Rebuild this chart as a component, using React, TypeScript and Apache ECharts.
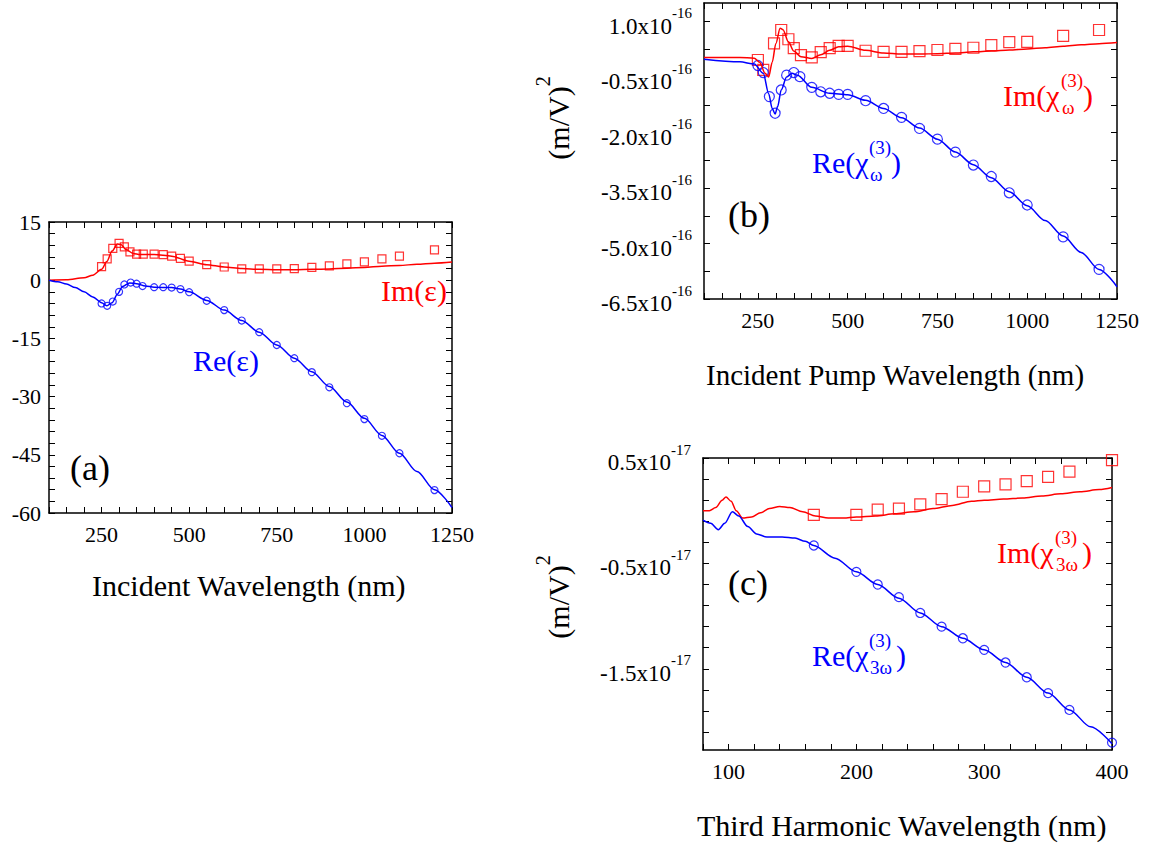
import React, { useEffect, useRef } from 'react';
import * as echarts from 'echarts';

const FONT = 'Liberation Serif';
const RED = '#ff0000';
const BLUE = '#0000ff';

// ---------- Panel (a): dielectric function ----------
const aImLine: [number, number][] = [
  [100, 0], [150, 0.1], [200, 0.6], [225, 1.3], [250, 2.8], [265, 4.8], [280, 7.5], [295, 9.3],
  [305, 9.2], [320, 7.9], [340, 6.9], [360, 6.6], [400, 6.6], [450, 6.2], [500, 4.9], [550, 4.0],
  [600, 3.4], [650, 3.0], [700, 2.8], [750, 2.7], [800, 2.7], [850, 2.8], [900, 2.9], [950, 3.1],
  [1000, 3.3], [1050, 3.6], [1100, 3.8], [1150, 4.1], [1200, 4.4], [1250, 4.7],
];
const aReLine: [number, number][] = [
  [100, 0], [125, -0.4], [150, -1.0], [175, -1.9], [200, -3.0], [225, -4.3], [250, -5.8], [265, -6.6],
  [280, -5.8], [295, -3.6], [310, -1.6], [330, -0.7], [350, -0.9], [375, -1.5], [400, -1.8], [450, -1.9],
  [475, -2.3], [500, -3.0], [550, -5.2], [600, -7.7], [650, -10.4], [700, -13.4], [750, -16.7],
  [800, -20.1], [850, -23.6], [900, -27.4], [950, -31.4], [1000, -35.6], [1050, -40.0], [1100, -44.6],
  [1150, -49.3], [1200, -54.0], [1250, -58.6],
];
const aImPts: [number, number][] = [
  [250, 3.5], [266, 5.5], [282, 8.2], [300, 9.5], [315, 8.6], [331, 7.3], [350, 6.7], [369, 6.7],
  [400, 6.7], [426, 6.6], [450, 6.2], [475, 5.6], [500, 4.9], [550, 4.0], [600, 3.4], [650, 2.9],
  [700, 2.9], [750, 2.9], [800, 3.0], [850, 3.3], [900, 3.7], [950, 4.2], [1000, 4.7], [1050, 5.5],
  [1100, 6.2], [1200, 7.8],
];
const aRePts: [number, number][] = [
  [250, -6.0], [266, -6.6], [282, -5.5], [300, -3.0], [315, -1.1], [333, -0.6], [350, -0.9], [367, -1.5],
  [400, -1.8], [426, -1.8], [450, -1.9], [475, -2.3], [500, -3.1], [550, -5.3], [600, -7.7], [650, -10.4],
  [700, -13.4], [750, -16.7], [800, -20.1], [850, -23.7], [900, -27.6], [950, -31.7], [1000, -35.8],
  [1050, -40.1], [1100, -44.6], [1200, -54.1],
];

// ---------- Panel (b): chi(3) at pump (units of 1e-16 (m/V)^2) ----------
const bImLine: [number, number][] = [
  [100, 0.03], [200, 0.03], [240, 0.01], [255, -0.1], [270, -0.4], [280, -0.5], [290, -0.1], [300, 0.4],
  [312, 0.82], [320, 0.78], [335, 0.45], [350, 0.2], [370, 0.05], [400, 0.0], [425, 0.1], [450, 0.22],
  [475, 0.32], [500, 0.33], [550, 0.22], [600, 0.15], [650, 0.12], [700, 0.12], [750, 0.13], [800, 0.15],
  [850, 0.18], [900, 0.2], [950, 0.23], [1000, 0.26], [1050, 0.29], [1100, 0.33], [1150, 0.37],
  [1200, 0.4], [1250, 0.43],
];
const bReLine: [number, number][] = [
  [100, -0.02], [200, -0.09], [240, -0.15], [265, -0.4], [280, -0.95], [290, -1.35], [298, -1.5],
  [305, -1.3], [315, -0.85], [330, -0.5], [345, -0.4], [360, -0.45], [400, -0.78], [450, -0.94],
  [500, -0.98], [550, -1.13], [600, -1.35], [650, -1.6], [700, -1.88], [750, -2.18], [800, -2.53],
  [850, -2.87], [900, -3.22], [950, -3.6], [1000, -3.98], [1050, -4.38], [1100, -4.8], [1150, -5.24],
  [1200, -5.7], [1250, -6.17],
];
const bImPts: [number, number][] = [
  [250, -0.04], [265, -0.31], [295, 0.41], [315, 0.77], [335, 0.52], [350, 0.28], [370, 0.09],
  [400, 0.03], [425, 0.17], [450, 0.28], [475, 0.34], [500, 0.34], [550, 0.21], [600, 0.18],
  [650, 0.18], [700, 0.2], [750, 0.23], [800, 0.26], [850, 0.29], [900, 0.36], [950, 0.44],
  [1000, 0.45], [1100, 0.61], [1200, 0.77],
];
const bRePts: [number, number][] = [
  [250, -0.19], [265, -0.38], [282, -1.03], [298, -1.48], [315, -0.85], [330, -0.45], [350, -0.38],
  [367, -0.49], [400, -0.78], [425, -0.9], [450, -0.94], [475, -0.97], [500, -0.97], [550, -1.14],
  [600, -1.35], [650, -1.59], [700, -1.89], [750, -2.18], [800, -2.53], [850, -2.88], [900, -3.19],
  [950, -3.63], [1000, -3.96], [1100, -4.82], [1200, -5.7],
];

// ---------- Panel (c): chi(3) at third harmonic (units of 1e-17 (m/V)^2) ----------
const cImLine: [number, number][] = [
  [80, 0.0], [85, 0.0], [90, 0.03], [95, 0.1], [98, 0.13], [102, 0.09], [106, 0.0], [111, -0.07],
  [118, -0.06], [125, -0.02], [132, 0.02], [140, 0.04], [148, 0.03], [158, -0.01], [168, -0.05],
  [178, -0.07], [190, -0.07], [200, -0.06], [215, -0.05], [230, -0.03], [245, -0.01], [260, 0.02],
  [275, 0.05], [290, 0.09], [300, 0.1], [315, 0.11], [330, 0.12], [345, 0.14], [360, 0.16],
  [375, 0.18], [390, 0.2], [400, 0.22],
];
const cReLine: [number, number][] = [
  [80, -0.09], [86, -0.12], [92, -0.18], [97, -0.12], [103, -0.01], [108, -0.05], [115, -0.15],
  [122, -0.22], [130, -0.25], [142, -0.25], [152, -0.26], [160, -0.29], [166.7, -0.33], [183.3, -0.45],
  [200, -0.58], [216.7, -0.7], [233.3, -0.83], [250, -0.97], [266.7, -1.1], [283.3, -1.21], [300, -1.32],
  [316.7, -1.44], [333.3, -1.58], [350, -1.73], [366.7, -1.89], [383.3, -2.05], [400, -2.21],
];
const cImPts: [number, number][] = [
  [166.7, -0.04], [200, -0.04], [216.7, 0.01], [233.3, 0.02], [250, 0.06], [266.7, 0.11], [283.3, 0.18],
  [300, 0.23], [316.7, 0.25], [333.3, 0.28], [350, 0.32], [366.7, 0.37], [400, 0.48],
];
const cRePts: [number, number][] = [
  [166.7, -0.33], [200, -0.58], [216.7, -0.7], [233.3, -0.82], [250, -0.97], [266.7, -1.1],
  [283.3, -1.21], [300, -1.32], [316.7, -1.44], [333.3, -1.58], [350, -1.73], [366.7, -1.89],
  [400, -2.2],
];

// ---------- ticks ----------
function steps(a: number, b: number, s: number): number[] {
  const out: number[] = [];
  for (let i = 0; a + i * s <= b + 1e-9; i++) out.push(Math.round((a + i * s) * 1000) / 1000);
  return out;
}
const aXTicks = steps(100, 1250, 50);
const aXLabels = [250, 500, 750, 1000, 1250];
const aYTicks = steps(-60, 15, 3);
const aYLabels = [-60, -45, -30, -15, 0, 15];
const bXTicks = steps(100, 1250, 50);
const bXLabels = [250, 500, 750, 1000, 1250];
const bYTicks = steps(-6.5, 1.0, 0.75);
const bYLabels = [-6.5, -5.0, -3.5, -2.0, -0.5, 1.0];
const cXTicks = steps(80, 400, 20);
const cXLabels = [100, 200, 300, 400];
const cYTicks = steps(-2.1, 0.5, 0.2);
const cYLabels = [-1.5, -0.5, 0.5];

const AXLINE = { show: true, onZero: false, lineStyle: { color: '#000', width: 1.5 } };
const TICKSTYLE = { color: '#000', width: 1 };

function xPair(grid: number, min: number, max: number, ticks: number[], labels: number[]) {
  return [
    {
      type: 'value', gridIndex: grid, min, max, position: 'bottom',
      axisLine: AXLINE,
      axisTick: { show: true, inside: true, length: 6, customValues: ticks, lineStyle: TICKSTYLE },
      axisLabel: {
        customValues: labels, fontFamily: FONT, fontSize: 22, color: '#000', margin: 10,
        formatter: (v: number) => String(v),
      },
      splitLine: { show: false },
    },
    {
      type: 'value', gridIndex: grid, min, max, position: 'top',
      axisLine: AXLINE,
      axisTick: { show: true, inside: true, length: 6, customValues: ticks, lineStyle: TICKSTYLE },
      axisLabel: { show: false },
      splitLine: { show: false },
    },
  ];
}

function yPair(grid: number, min: number, max: number, ticks: number[], labels: number[], fmt: any, rich?: any, margin = 8) {
  return [
    {
      type: 'value', gridIndex: grid, min, max, position: 'left',
      axisLine: AXLINE,
      axisTick: { show: true, inside: true, length: 6, customValues: ticks, lineStyle: TICKSTYLE },
      axisLabel: {
        customValues: labels, fontFamily: FONT, fontSize: 22, color: '#000', margin,
        formatter: fmt, rich,
      },
      splitLine: { show: false },
    },
    {
      type: 'value', gridIndex: grid, min, max, position: 'right',
      axisLine: AXLINE,
      axisTick: { show: true, inside: true, length: 6, customValues: ticks, lineStyle: TICKSTYLE },
      axisLabel: { show: false },
      splitLine: { show: false },
    },
  ];
}

const sciRich = {
  m: { fontFamily: FONT, fontSize: 23, color: '#000', lineHeight: 32, verticalAlign: 'bottom' },
  s: { fontFamily: FONT, fontSize: 15, color: '#000', verticalAlign: 'top' },
};
const sciFmt = (exp: string) => (v: number) => `{m|${v.toFixed(1)}x10}{s|${exp}}`;

function lineSeries(grid: number, data: [number, number][], color: string) {
  return {
    type: 'line', xAxisIndex: grid * 2, yAxisIndex: grid * 2, data, showSymbol: false,
    smooth: 0.3, smoothMonotone: 'x', lineStyle: { color, width: 1.5 }, silent: true,
  };
}
function ptSeries(grid: number, data: [number, number][], color: string, symbol: string, size: number) {
  return {
    type: 'scatter', xAxisIndex: grid * 2, yAxisIndex: grid * 2, data, symbol, symbolSize: size,
    itemStyle: { color: 'rgba(0,0,0,0)', borderColor: color, borderWidth: 1.2 }, silent: true,
  };
}

function txt(x: number, y: number, text: string, size: number, fill: string, extra: any = {}) {
  return {
    type: 'text', x, y, silent: true,
    style: {
      text, fontFamily: FONT, fontSize: size, fill,
      textAlign: 'left', textVerticalAlign: 'middle', align: 'left', verticalAlign: 'middle',
      ...extra,
    },
  };
}

function chiLabel(x: number, y: number, head: string, sub: string, color: string) {
  const headW = head.startsWith('I') ? 58 : 57;
  const sx = x + headW;
  const subW = sub.length > 1 ? 25 : 17;
  return [
    txt(x, y, head, 30, color),
    txt(sx, y - 15, '(3)', 19, color),
    txt(sx + 1, y + 12, sub, 19, color),
    txt(sx + Math.max(22, subW + 2), y, ')', 30, color),
  ];
}

const massLabel = (y: number) => ({
  type: 'text', x: 553, y, rotation: Math.PI / 2, silent: true,
  style: {
    text: '{a|(m/V)}{s|2}', textAlign: 'center', textVerticalAlign: 'middle', align: 'center', verticalAlign: 'middle',
    rich: {
      a: { fontFamily: FONT, fontSize: 30, fill: '#000', color: '#000', lineHeight: 40, verticalAlign: 'bottom' },
      s: { fontFamily: FONT, fontSize: 20, fill: '#000', color: '#000', verticalAlign: 'top' },
    },
  },
});

const App: React.FC = () => {
  const ref = useRef<HTMLDivElement>(null);
  useEffect(() => {
    if (!ref.current) return;
    const chart = echarts.init(ref.current, undefined, { renderer: 'svg' });
    const option: any = {
      animation: false,
      backgroundColor: '#fff',
      textStyle: { fontFamily: FONT },
      grid: [
        { left: 49, top: 222, width: 403, height: 291 },
        { left: 704, top: 3, width: 413, height: 296 },
        { left: 703, top: 458, width: 409, height: 292 },
      ],
      xAxis: [
        ...xPair(0, 100, 1250, aXTicks, aXLabels),
        ...xPair(1, 100, 1250, bXTicks, bXLabels),
        ...xPair(2, 80, 400, cXTicks, cXLabels),
      ],
      yAxis: [
        ...yPair(0, -60, 15, aYTicks, aYLabels, (v: number) => String(v)),
        ...yPair(1, -6.5, 1.5, bYTicks, bYLabels, sciFmt('-16'), sciRich, 12),
        ...yPair(2, -2.27, 0.5, cYTicks, cYLabels, sciFmt('-17'), sciRich, 12),
      ],
      series: [
        lineSeries(0, aImLine, RED),
        lineSeries(0, aReLine, BLUE),
        ptSeries(0, aImPts, RED, 'rect', 8),
        ptSeries(0, aRePts, BLUE, 'circle', 7),
        lineSeries(1, bImLine, RED),
        lineSeries(1, bReLine, BLUE),
        ptSeries(1, bImPts, RED, 'rect', 11),
        ptSeries(1, bRePts, BLUE, 'circle', 10),
        lineSeries(2, cImLine, RED),
        lineSeries(2, cReLine, BLUE),
        ptSeries(2, cImPts, RED, 'rect', 11),
        ptSeries(2, cRePts, BLUE, 'circle', 9),
      ],
      graphic: [
        txt(92, 585, 'Incident Wavelength (nm)', 30, '#000'),
        txt(706, 375, 'Incident Pump Wavelength (nm)', 29, '#000'),
        txt(697, 825, 'Third Harmonic Wavelength (nm)', 30, '#000'),
        txt(70, 468, '(a)', 36, '#000'),
        txt(728, 215, '(b)', 36, '#000'),
        txt(728, 583, '(c)', 36, '#000'),
        txt(193, 360, 'Re(ε)', 30, BLUE),
        txt(381, 290, 'Im(ε)', 30, RED),
        ...chiLabel(1003, 95, 'Im(χ', 'ω', RED),
        ...chiLabel(812, 162, 'Re(χ', 'ω', BLUE),
        ...chiLabel(997, 552, 'Im(χ', '3ω', RED),
        ...chiLabel(812, 655, 'Re(χ', '3ω', BLUE),
        massLabel(118),
        massLabel(597),
      ],
    };
    chart.setOption(option);
    return () => chart.dispose();
  }, []);
  return (
    <div
      ref={ref}
      style={{ position: 'fixed', left: 0, top: 0, width: 1149, height: 845, background: '#fff' }}
    />
  );
};

export default App;
